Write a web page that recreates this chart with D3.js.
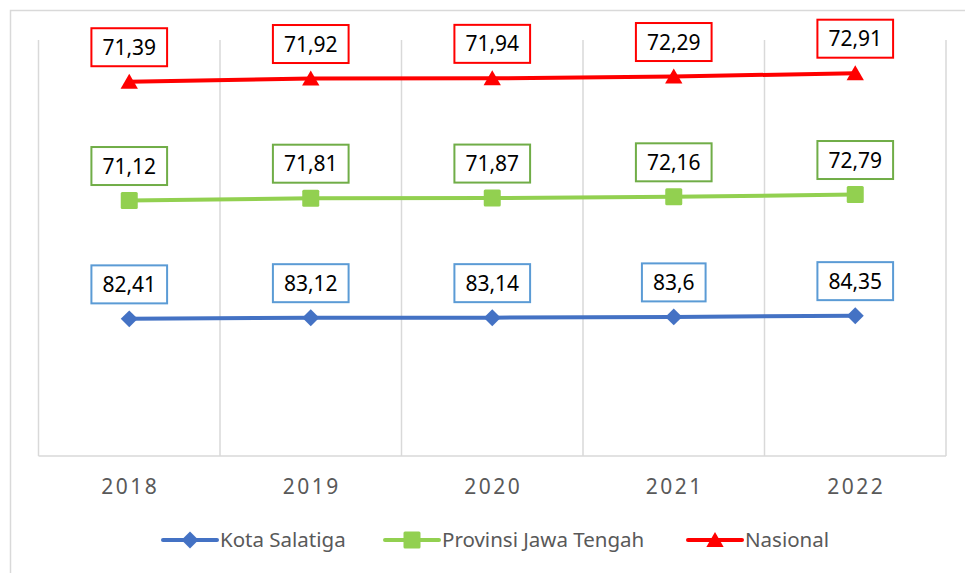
<!DOCTYPE html>
<html>
<head>
<meta charset="utf-8">
<script src="https://cdn.jsdelivr.net/npm/d3@7"></script>
<style>
  body { margin: 0; background: #fff; }
  svg { display: block; }
</style>
</head>
<body>
<div class="chart"></div>
<script>
// data
const years = ["2018", "2019", "2020", "2021", "2022"];
const kotaSalatiga = [82.41, 83.12, 83.14, 83.6, 84.35];
const jawaTengah = [71.12, 71.81, 71.87, 72.16, 72.79];
const nasional = [71.39, 71.92, 71.94, 72.29, 72.91];
const seriesNames = ["Kota Salatiga", "Provinsi Jawa Tengah", "Nasional"];

const width = 965, height = 573;
const svg = d3.select(".chart").append("svg")
  .attr("width", width)
  .attr("height", height);

// chart frame
svg.append("rect")
  .attr("x", 10.5).attr("y", 10.5)
  .attr("width", 970).attr("height", 580)
  .attr("fill", "none")
  .attr("stroke", "#d9d9d9")
  .attr("stroke-width", 1.5);

const plot = { left: 38.5, right: 946, top: 40, bottom: 456 };

const x = d3.scaleBand().domain(years).range([plot.left, plot.right]);
const y = d3.scaleLinear().domain([0, 250]).range([plot.bottom, plot.top]);

// stacked line (each series sits on the one before)
const rows = years.map((yr, i) => ({
  year: yr,
  "Kota Salatiga": kotaSalatiga[i],
  "Provinsi Jawa Tengah": jawaTengah[i],
  "Nasional": nasional[i]
}));
const stacked = d3.stack().keys(seriesNames)(rows);

const lineColors = ["#4472c4", "#92d050", "#ff0000"];
const boxColors = ["#5b9bd5", "#70ad47", "#ff0000"];

// markers: rotated square, square, triangle
function marker(sel, k) {
  if (k === 0) {
    sel.append("rect")
      .attr("x", -6).attr("y", -6).attr("width", 12).attr("height", 12)
      .attr("transform", "rotate(45)")
      .attr("fill", lineColors[k]);
  } else if (k === 1) {
    sel.append("rect")
      .attr("x", -8.5).attr("y", -8.5).attr("width", 17).attr("height", 17)
      .attr("rx", 1.5)
      .attr("fill", lineColors[k]);
  } else {
    sel.append("path")
      .attr("d", d3.symbol().type(d3.symbolTriangle).size(130))
      .attr("transform", "translate(0,2)")
      .attr("fill", lineColors[k]);
  }
}

// vertical gridlines
const grid = svg.append("g");
const bounds = years.map(d => x(d)).concat([plot.right]);
grid.selectAll("line.v")
  .data(bounds)
  .enter().append("line")
  .attr("x1", d => d).attr("x2", d => d)
  .attr("y1", plot.top).attr("y2", plot.bottom)
  .attr("stroke", "#d9d9d9")
  .attr("stroke-width", 1.5);

// x axis line
svg.append("line")
  .attr("x1", plot.left).attr("x2", plot.right)
  .attr("y1", plot.bottom).attr("y2", plot.bottom)
  .attr("stroke", "#d9d9d9")
  .attr("stroke-width", 1.5);

// x axis labels
svg.selectAll("text.year")
  .data(years)
  .enter().append("text")
  .attr("class", "year")
  .attr("x", d => x(d) + x.bandwidth() / 2 + 1)
  .attr("y", 494)
  .attr("text-anchor", "middle")
  .attr("font-family", "'Noto Sans', sans-serif")
  .attr("font-size", 21)
  .attr("letter-spacing", 2.5)
  .attr("fill", "#595959")
  .text(d => d);

const cx = d => x(d.data.year) + x.bandwidth() / 2;

const line = d3.line()
  .x(cx)
  .y(d => y(d[1]));

stacked.forEach((s, k) => {
  const g = svg.append("g");
  g.append("path")
    .datum(s)
    .attr("d", line)
    .attr("fill", "none")
    .attr("stroke", lineColors[k])
    .attr("stroke-width", 4);

  g.selectAll("g.mark")
    .data(s)
    .enter().append("g")
    .attr("class", "mark")
    .attr("transform", d => "translate(" + cx(d) + "," + y(d[1]) + ")")
    .each(function () { marker(d3.select(this), k); });

  // data labels in boxes
  const lab = g.selectAll("g.lab")
    .data(s)
    .enter().append("g")
    .attr("class", "lab")
    .attr("transform", d => "translate(" + cx(d) + "," + (y(d[1]) - 34.5) + ")");

  lab.append("text")
    .attr("text-anchor", "middle")
    .attr("dy", "0.36em")
    .attr("font-family", "'Noto Sans', sans-serif")
    .attr("font-size", 21)
    .attr("fill", "#000")
    .text(d => String(+(d[1] - d[0]).toFixed(2)).replace(".", ","));

  lab.each(function () {
    const t = d3.select(this).select("text");
    const w = t.node().getComputedTextLength() + 22;
    d3.select(this).insert("rect", "text")
      .attr("x", -w / 2).attr("y", -19)
      .attr("width", w).attr("height", 38)
      .attr("fill", "#fff")
      .attr("stroke", boxColors[k])
      .attr("stroke-width", 2);
  });
});

// legend
const legendX = [163, 385, 688];
const legend = svg.append("g");
seriesNames.forEach((name, k) => {
  const lg = legend.append("g").attr("transform", "translate(" + legendX[k] + ",540)");
  lg.append("line")
    .attr("x1", 0).attr("x2", 54)
    .attr("stroke", lineColors[k])
    .attr("stroke-width", 4)
    .attr("stroke-linecap", "round");
  const m = lg.append("g").attr("transform", "translate(27,0)");
  marker(m, k);
  lg.append("text")
    .attr("x", 57)
    .attr("dy", "0.35em")
    .attr("font-family", "'Noto Sans', sans-serif")
    .attr("font-size", 20.5)
    .attr("fill", "#595959")
    .text(name);
});
</script>
</body>
</html>
